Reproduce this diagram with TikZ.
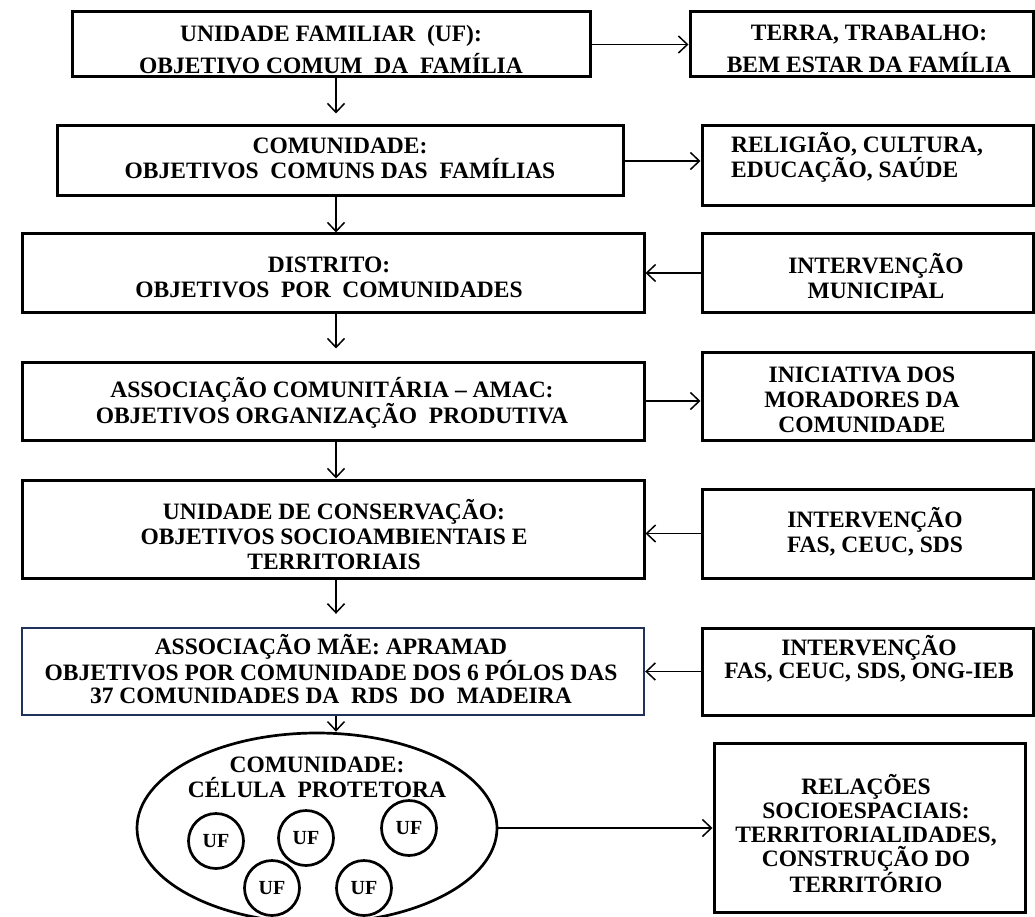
\documentclass[tikz,border=0pt]{standalone}
\usepackage{fontspec}
\setmainfont{Liberation Serif}
\usetikzlibrary{arrows.meta,shapes.geometric}
\definecolor{navy}{RGB}{31,50,90}
\begin{document}
\begin{tikzpicture}[x=1pt,y=-1pt,
  box/.style={draw=black, line width=3pt, rectangle, inner sep=0pt},
  txt/.style={font=\bfseries\fontsize{23.5}{25}\selectfont, align=center, inner sep=0pt},
  conn/.style={draw=black, line width=1.5pt, -{Straight Barb[length=9pt,width=17pt]}},
  ufc/.style={draw=black, line width=2.7pt, circle, minimum size=55pt, inner sep=0pt,
    font=\bfseries\fontsize{20}{22}\selectfont},
]
\useasboundingbox[fill=white] (0,0) rectangle (1035,917);
\coordinate (ax) at (336,0);

% left column boxes
\node[box, minimum width=518pt, minimum height=65pt] (b1) at (331,44.5) {};
\node[box, minimum width=566pt, minimum height=70pt] (b2) at (340,161) {};
\node[box, minimum width=622pt, minimum height=78pt] (b3) at (333,273) {};
\node[box, minimum width=622pt, minimum height=78pt] (b4) at (333,401) {};
\node[box, minimum width=622pt, minimum height=98pt] (b5) at (333,529) {};
\node[box, draw=navy, line width=2.4pt, minimum width=622pt, minimum height=87pt] (b6) at (333,671.5) {};
\node[draw=black, line width=2.7pt, ellipse, minimum width=360pt, minimum height=190pt, inner sep=0pt] (ell) at (317,828) {};

% right column boxes
\node[box, minimum width=343pt, minimum height=65pt] (r1) at (861.5,44.5) {};
\node[box, minimum width=331pt, minimum height=80pt] (r2) at (867.5,166) {};
\node[box, minimum width=331pt, minimum height=78pt] (r3) at (867.5,273) {};
\node[box, minimum width=331pt, minimum height=88pt] (r4) at (867.5,396) {};
\node[box, minimum width=331pt, minimum height=89pt] (r5) at (867.5,533.5) {};
\node[box, minimum width=331pt, minimum height=87pt] (r6) at (867.5,671.5) {};
\node[box, minimum width=311pt, minimum height=169pt] (rel) at (869.5,827.5) {};

% texts
\node[txt, font=\bfseries\fontsize{23.5}{32}\selectfont] (t1) at (331,50) {UNIDADE FAMILIAR~ (UF):\\OBJETIVO COMUM~ DA~ FAMÍLIA};
\node[txt, font=\bfseries\fontsize{23.5}{32}\selectfont] (u1) at (869,49) {TERRA, TRABALHO:\\BEM ESTAR DA FAMÍLIA};
\node[txt] (t2) at (340,158) {COMUNIDADE:\\OBJETIVOS~ COMUNS DAS~ FAMÍLIAS};
\node[txt, align=left] (u2) at (857,157) {RELIGIÃO, CULTURA,\\EDUCAÇÃO, SAÚDE};
\node[txt] (t3) at (329,277) {DISTRITO:\\OBJETIVOS~ POR~ COMUNIDADES};
\node[txt] (u3) at (876,276) {INTERVENÇÃO\\MUNICIPAL};
\node[txt] (t4) at (332,403) {ASSOCIAÇÃO COMUNITÁRIA – AMAC:\\OBJETIVOS ORGANIZAÇÃO~ PRODUTIVA};
\node[txt] (u4) at (862,400) {INICIATIVA DOS\\MORADORES DA\\COMUNIDADE};
\node[txt] (t5) at (334,535) {UNIDADE DE CONSERVAÇÃO:\\OBJETIVOS SOCIOAMBIENTAIS E\\TERRITORIAIS};
\node[txt] (u5) at (875,532) {INTERVENÇÃO\\FAS, CEUC, SDS};
\node[txt, font=\bfseries\fontsize{23.5}{23}\selectfont] (t6) at (331,669) {ASSOCIAÇÃO MÃE: APRAMAD\\OBJETIVOS POR COMUNIDADE DOS 6 PÓLOS DAS\\37 COMUNIDADES DA~ RDS~ DO~ MADEIRA};
\node[txt, font=\bfseries\fontsize{23.5}{23}\selectfont] (u6) at (869,659) {INTERVENÇÃO\\FAS, CEUC, SDS, ONG-IEB};
\node[txt] (te) at (317,777) {COMUNIDADE:\\CÉLULA~ PROTETORA};
\node[txt, font=\bfseries\fontsize{23.5}{24}\selectfont] (ur) at (866,834) {RELAÇÕES\\SOCIOESPACIAIS:\\TERRITORIALIDADES,\\CONSTRUÇÃO DO\\TERRITÓRIO};

% UF circles
\node[ufc] (uf1) at (216,841) {UF};
\node[ufc] (uf2) at (306,838) {UF};
\node[ufc] (uf3) at (409,828) {UF};
\node[ufc] (uf4) at (272,888) {UF};
\node[ufc] (uf5) at (364,888) {UF};

% vertical connectors
\draw[conn, shorten >=11pt] (b1.south -| ax) -- (b2.north -| ax);
\draw[conn] (b2.south -| ax) -- (b3.north -| ax);
\draw[conn, shorten >=12pt] (b3.south -| ax) -- (b4.north -| ax);
\draw[conn] (b4.south -| ax) -- (b5.north -| ax);
\draw[conn, shorten >=13pt] (b5.south -| ax) -- (b6.north -| ax);
\draw[conn] (b6.south -| ax) -- (ell.north -| ax);

% horizontal connectors
\draw[conn] (b1.east) -- (r1.west);
\draw[conn] (b2.east) -- (r2.west |- b2.east);
\draw[conn] (r3.west) -- (b3.east);
\draw[conn] (b4.east) -- (r4.west |- b4.east);
\draw[conn] (r5.west) -- (b5.east |- r5.west);
\draw[conn] (r6.west) -- (b6.east);
\draw[conn] (ell.east) -- (rel.west |- ell.east);
\end{tikzpicture}
\end{document}
